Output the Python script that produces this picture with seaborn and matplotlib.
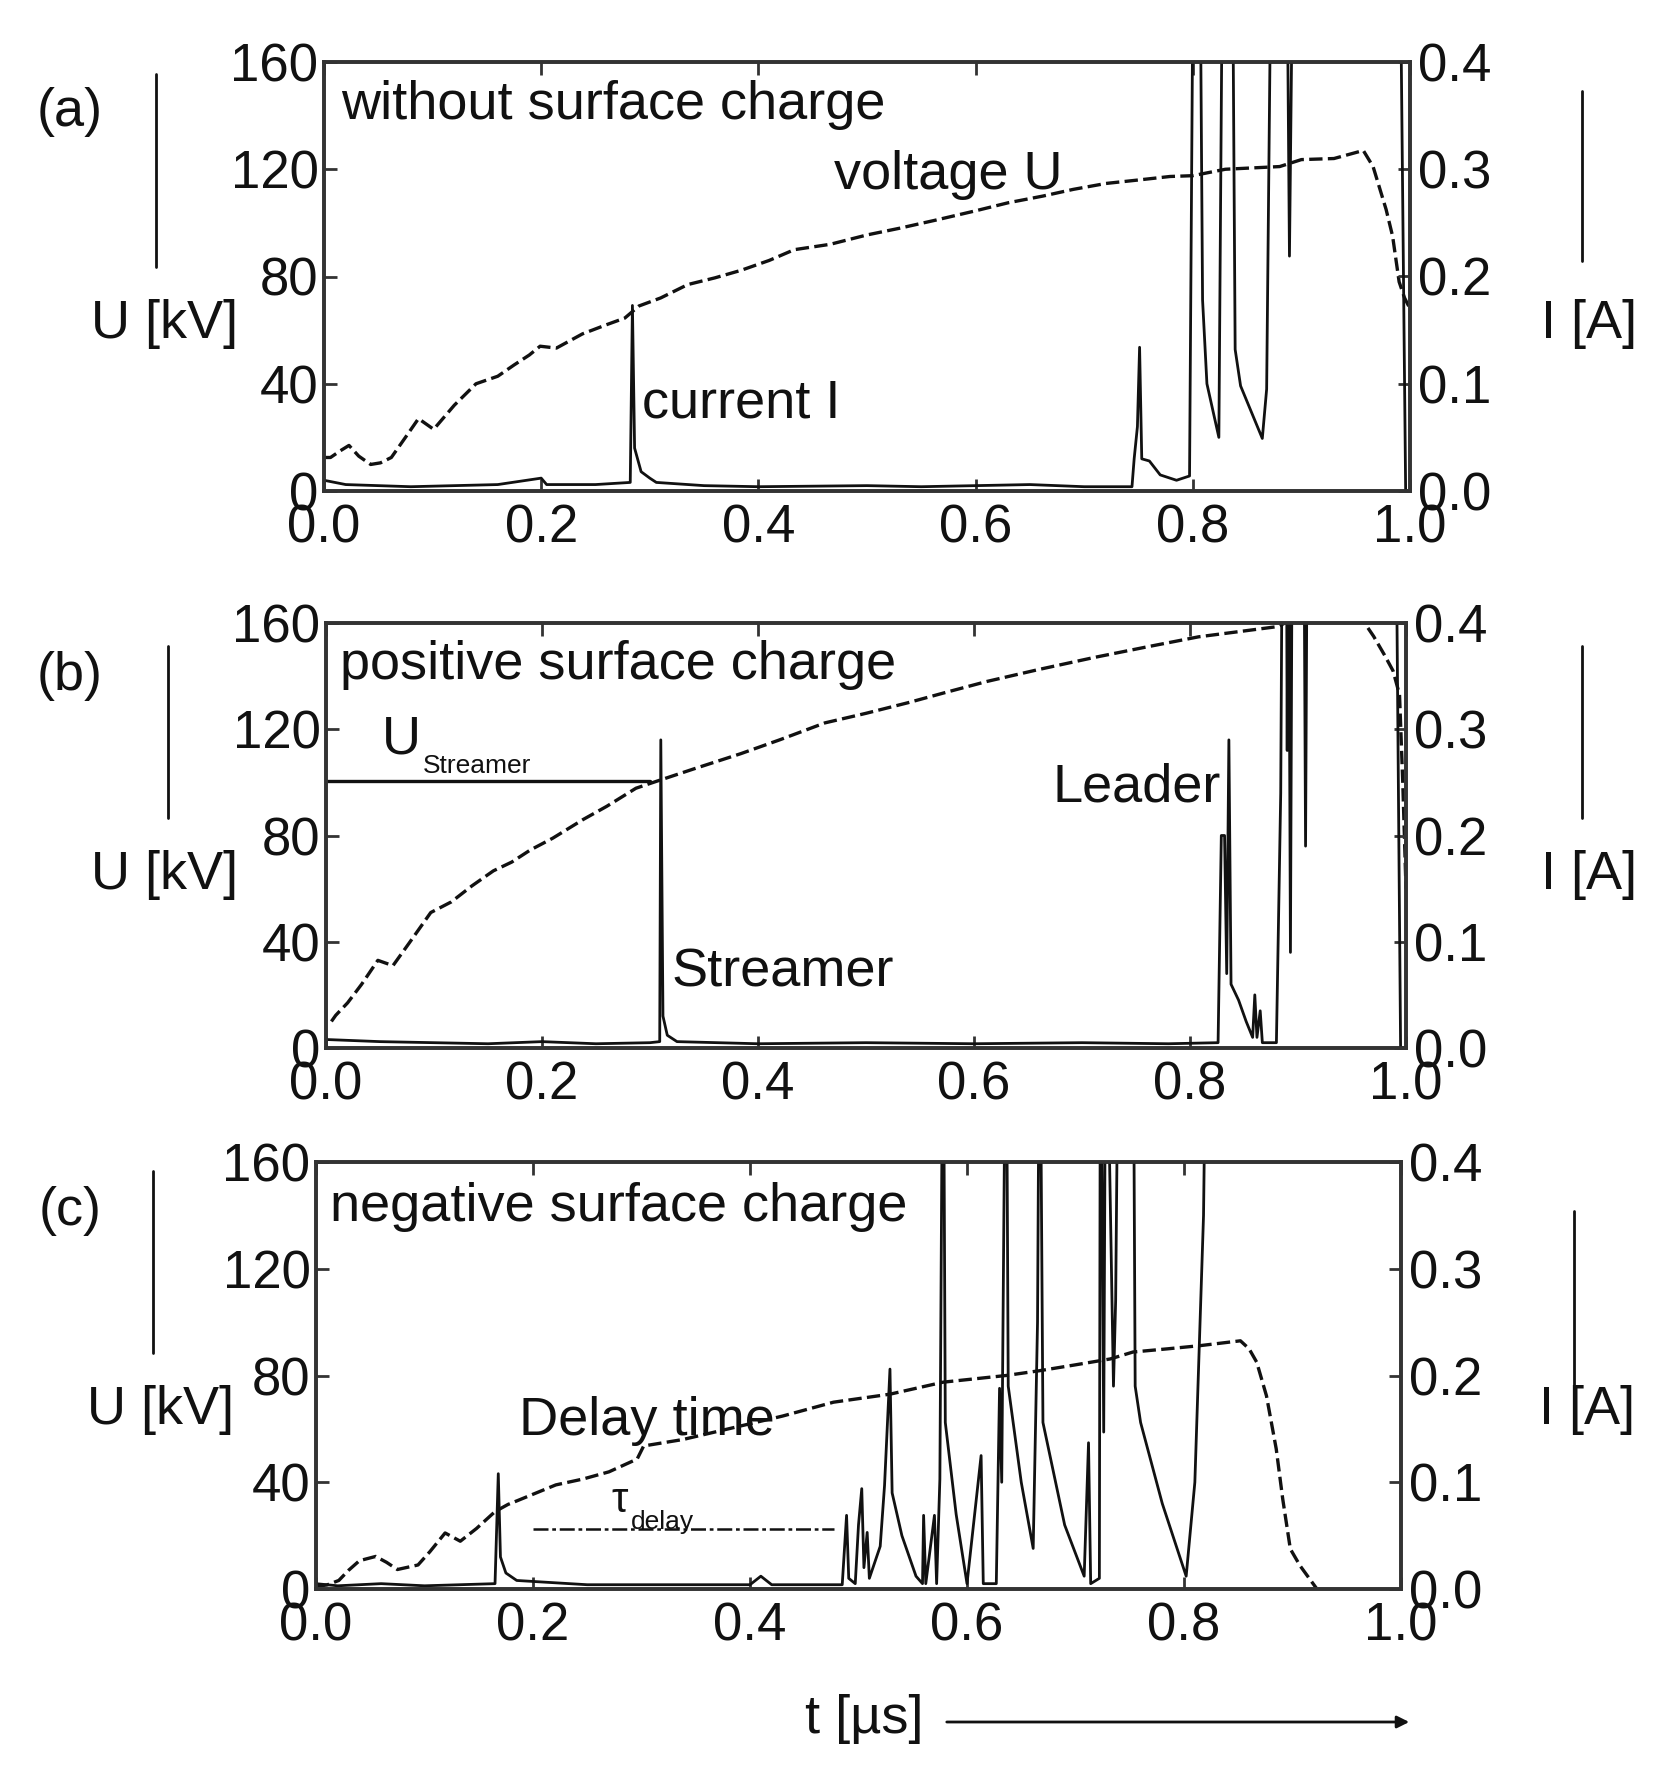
import matplotlib
matplotlib.use("Agg")
import numpy as np
import matplotlib.pyplot as plt
import seaborn as sns
from matplotlib.lines import Line2D

# ---- panel (a): without surface charge ----
T_U_A = [0.000, 0.006, 0.015, 0.023, 0.032, 0.043, 0.052, 0.062, 0.075, 0.087, 0.101, 0.120,
         0.140, 0.160, 0.175, 0.189, 0.199, 0.214, 0.238, 0.260, 0.277, 0.290, 0.310, 0.335,
         0.360, 0.384, 0.410, 0.433, 0.466, 0.500, 0.530, 0.563, 0.600, 0.630, 0.662, 0.690,
         0.720, 0.750, 0.779, 0.800, 0.830, 0.860, 0.880, 0.900, 0.930, 0.957, 0.966, 0.978,
         0.984, 0.990, 0.995, 1.000]
U_A = [12.5, 12.5, 15, 17, 13, 9.9, 10.5, 12.5, 20, 27, 23, 32,
       40, 42.8, 47, 50.7, 54, 53.3, 58.6, 62, 64.5, 69, 72, 77,
       79.5, 82.3, 86, 90, 92, 95.5, 98, 101, 104.5, 107.5, 110, 112.5,
       114.7, 116, 117.3, 117.6, 120, 120.6, 121, 123.6, 124, 127, 121, 105,
       95, 78, 72, 68]
T_I_A = [0.000, 0.020, 0.050, 0.080, 0.120, 0.160, 0.200, 0.205, 0.250, 0.282, 0.284, 0.286,
         0.292, 0.300, 0.306, 0.350, 0.400, 0.500, 0.550, 0.600, 0.650, 0.700, 0.744, 0.746,
         0.749, 0.751, 0.753, 0.760, 0.770, 0.785, 0.797, 0.801, 0.806, 0.809, 0.813, 0.824,
         0.828, 0.836, 0.839, 0.844, 0.864, 0.868, 0.873, 0.886, 0.889, 0.893, 0.990, 0.996, 1.000]
I_A = [0.010, 0.006, 0.005, 0.004, 0.005, 0.006, 0.012, 0.006, 0.006, 0.008, 0.173, 0.040,
       0.018, 0.012, 0.008, 0.005, 0.004, 0.005, 0.004, 0.005, 0.006, 0.004, 0.004, 0.030,
       0.060, 0.134, 0.030, 0.028, 0.015, 0.010, 0.014, 0.6, 0.6, 0.178, 0.100, 0.050,
       0.6, 0.6, 0.132, 0.098, 0.049, 0.095, 0.6, 0.6, 0.219, 0.6, 0.6, 0.0, 0.0]

# ---- panel (b): positive surface charge ----
T_U_B = [0.005, 0.009, 0.020, 0.033, 0.048, 0.062, 0.077, 0.097, 0.116, 0.135, 0.155, 0.172,
         0.189, 0.210, 0.238, 0.260, 0.287, 0.306, 0.340, 0.384, 0.420, 0.462, 0.500, 0.539,
         0.575, 0.612, 0.660, 0.711, 0.760, 0.808, 0.850, 0.882, 0.890, 0.960, 0.970, 0.980,
         0.988, 0.994, 0.997, 1.000]
U_B = [10, 12.3, 17, 24, 33, 31, 39.5, 51, 55, 61, 66.7, 70,
       74.5, 79, 86, 91, 97.8, 100.4, 105, 110.8, 116, 122.4, 126, 130,
       134, 138, 142.5, 147, 151, 154.8, 157, 158.7, 160.5, 161, 155, 148,
       142, 133, 100, 60]
T_I_B = [0.000, 0.050, 0.100, 0.150, 0.200, 0.250, 0.300, 0.309, 0.310, 0.312, 0.316, 0.325,
         0.400, 0.500, 0.600, 0.700, 0.780, 0.826, 0.827, 0.829, 0.832, 0.834, 0.836, 0.838,
         0.845, 0.852, 0.858, 0.860, 0.862, 0.865, 0.867, 0.880, 0.884, 0.886, 0.889, 0.890,
         0.891, 0.893, 0.895, 0.905, 0.907, 0.909, 0.990, 0.995, 1.000]
I_B = [0.008, 0.006, 0.005, 0.004, 0.006, 0.004, 0.005, 0.006, 0.290, 0.030, 0.012, 0.006,
       0.004, 0.005, 0.004, 0.005, 0.004, 0.005, 0.070, 0.200, 0.200, 0.070, 0.290, 0.060,
       0.045, 0.025, 0.010, 0.050, 0.010, 0.035, 0.005, 0.005, 0.240, 0.6, 0.6, 0.280,
       0.6, 0.090, 0.6, 0.6, 0.190, 0.6, 0.6, 0.0, 0.0]
U_STREAMER = 100.4
T_STREAMER_LINE = [0.0, 0.30]

# ---- panel (c): negative surface charge ----
T_U_C = [0.000, 0.010, 0.021, 0.030, 0.040, 0.055, 0.065, 0.075, 0.094, 0.105, 0.119, 0.133,
         0.148, 0.165, 0.177, 0.185, 0.221, 0.246, 0.270, 0.296, 0.302, 0.338, 0.380, 0.430,
         0.477, 0.529, 0.578, 0.636, 0.667, 0.700, 0.732, 0.753, 0.785, 0.815, 0.852, 0.860,
         0.867, 0.876, 0.885, 0.891, 0.898, 0.907, 0.922]
U_C = [1, 1.5, 3.2, 7, 10.6, 12.2, 10, 7.3, 9, 14, 21, 17.9,
       22.7, 29, 31.7, 33, 39, 41.2, 43.9, 48.7, 53.6, 56, 60, 64.8,
       70, 73, 77.5, 80, 81.8, 84, 86.2, 88.8, 90, 91.2, 93, 90,
       85, 72.4, 52.5, 33.7, 15, 8.7, 0.3]
T_I_C = [0.000, 0.020, 0.060, 0.100, 0.165, 0.168, 0.170, 0.175, 0.185, 0.250, 0.400, 0.410,
         0.420, 0.485, 0.489, 0.491, 0.497, 0.500, 0.503, 0.505, 0.508, 0.510, 0.520, 0.524,
         0.529, 0.531, 0.540, 0.553, 0.559, 0.560, 0.562, 0.570, 0.572, 0.575, 0.578, 0.580,
         0.590, 0.600, 0.613, 0.615, 0.627, 0.630, 0.632, 0.636, 0.638, 0.650, 0.661, 0.665,
         0.667, 0.670, 0.690, 0.708, 0.712, 0.714, 0.722, 0.723, 0.726, 0.728, 0.735, 0.737,
         0.740, 0.753, 0.755, 0.760, 0.780, 0.802, 0.810, 0.818, 0.821, 1.000]
I_C = [0.005, 0.003, 0.005, 0.003, 0.005, 0.108, 0.030, 0.015, 0.008, 0.004, 0.004, 0.012,
       0.004, 0.004, 0.069, 0.010, 0.005, 0.060, 0.094, 0.020, 0.053, 0.010, 0.040, 0.097,
       0.206, 0.090, 0.050, 0.012, 0.005, 0.069, 0.005, 0.069, 0.005, 0.103, 0.6, 0.156,
       0.070, 0.005, 0.125, 0.005, 0.005, 0.188, 0.100, 0.6, 0.190, 0.100, 0.038, 0.250,
       0.6, 0.156, 0.060, 0.012, 0.137, 0.005, 0.010, 0.6, 0.147, 0.6, 0.190, 0.270,
       0.6, 0.6, 0.190, 0.156, 0.080, 0.012, 0.100, 0.350, 0.6, 0.6]
U_DELAY = 22.5
T_DELAY_LINE = [0.20, 0.477]

U_TICKS = [0, 40, 80, 120, 160]
I_TICKS = [0.0, 0.1, 0.2, 0.3, 0.4]
T_TICKS = [0.0, 0.2, 0.4, 0.6, 0.8, 1.0]

W, H = 1663, 1782
sns.set_theme(style="ticks")
plt.rcParams['font.family'] = ['Liberation Sans', 'DejaVu Sans']
FS_TICK = 38
FS = 39
INK = '#111111'
SPINE = '#333333'

fig = plt.figure(figsize=(W / 100, H / 100), dpi=100)
fig.patch.set_facecolor('white')


def px_rect(x0, y0, x1, y1):
    return [x0 / W, 1 - y1 / H, (x1 - x0) / W, (y1 - y0) / H]


def fig_xy(x, y):
    return x / W, 1 - y / H


def draw_panel(rect, t_u, u, t_i, cur):
    ax = fig.add_axes(rect)
    ax2 = ax.twinx()
    sns.lineplot(x=t_u, y=u, ax=ax, color=INK, lw=2.4, linestyle=(0, (4, 1.6)),
                 estimator=None, sort=False)
    sns.lineplot(x=t_i, y=cur, ax=ax2, color=INK, lw=2.0, estimator=None, sort=False)
    ax.set_xlim(0, 1)
    ax.set_ylim(0, 160)
    ax2.set_ylim(0, 0.4)
    ax.set_xticks(T_TICKS)
    ax.set_xticklabels([f"{v:.1f}" for v in T_TICKS])
    ax.set_yticks(U_TICKS)
    ax.set_yticklabels([str(v) for v in U_TICKS])
    ax2.set_yticks(I_TICKS)
    ax2.set_yticklabels([f"{v:.1f}" for v in I_TICKS])
    ax.set_xlabel("")
    ax.set_ylabel("")
    ax2.set_ylabel("")
    ax.tick_params(axis='both', direction='in', length=9, width=2, labelsize=FS_TICK,
                   top=True, pad=4, colors=SPINE, labelcolor=INK)
    ax.tick_params(axis='x', pad=9)
    ax2.tick_params(axis='y', direction='in', length=9, width=2, labelsize=FS_TICK,
                    pad=6, colors=SPINE, labelcolor=INK)
    for a in (ax, ax2):
        for s in a.spines.values():
            s.set_visible(True)
            s.set_linewidth(2.6)
            s.set_color(SPINE)
    return ax, ax2


def side_label(y_text, x_u, x_i, left_line, right_line):
    fig.text(*fig_xy(x_u, y_text), "U [kV]", ha='center', va='center', fontsize=FS, color=INK)
    fig.text(*fig_xy(x_i, y_text), "I [A]", ha='center', va='center', fontsize=FS, color=INK)
    for (x, y0, y1) in (left_line, right_line):
        xa, ya0 = fig_xy(x, y0)
        _, ya1 = fig_xy(x, y1)
        fig.add_artist(Line2D([xa, xa], [ya0, ya1], color=INK, lw=2.0))


# panel (a)
ax_a, ax2_a = draw_panel(px_rect(324, 62, 1410, 491), T_U_A, U_A, T_I_A, I_A)
ax_a.text(0.016, 144, "without surface charge", fontsize=FS, va='center', ha='left', color=INK)
ax_a.text(0.47, 118, "voltage U", fontsize=FS, va='center', ha='left', color=INK)
ax_a.text(0.293, 32.5, "current I", fontsize=FS, va='center', ha='left', color=INK)
fig.text(*fig_xy(70, 112), "(a)", ha='center', va='center', fontsize=FS, color=INK)
side_label(324, 165, 1589, (156, 74, 267), (1582, 91, 261))

# panel (b)
ax_b, ax2_b = draw_panel(px_rect(326, 623, 1406, 1048), T_U_B, U_B, T_I_B, I_B)
sns.lineplot(x=T_STREAMER_LINE, y=[U_STREAMER] * len(T_STREAMER_LINE), ax=ax_b,
             color=INK, lw=2.4, estimator=None, sort=False)
ax_b.text(0.052, 116, "U", fontsize=FS, va='center', ha='left', color=INK)
ax_b.text(0.090, 106, "Streamer", fontsize=19, va='center', ha='left', color=INK)
ax_b.text(0.32, 28.6, "Streamer", fontsize=FS, va='center', ha='left', color=INK)
ax_b.text(0.673, 98, "Leader", fontsize=FS, va='center', ha='left', color=INK)
ax_b.text(0.013, 144, "positive surface charge", fontsize=FS, va='center', ha='left', color=INK)
fig.text(*fig_xy(70, 676), "(b)", ha='center', va='center', fontsize=FS, color=INK)
side_label(875, 165, 1589, (168, 646, 818), (1582, 646, 818))

# panel (c)
ax_c, ax2_c = draw_panel(px_rect(316, 1162, 1401, 1589), T_U_C, U_C, T_I_C, I_C)
sns.lineplot(x=T_DELAY_LINE, y=[U_DELAY] * len(T_DELAY_LINE), ax=ax_c,
             color=INK, lw=1.8, linestyle=(0, (6, 1.5, 1.5, 1.5)), estimator=None, sort=False)
ax_c.text(0.013, 143, "negative surface charge", fontsize=FS, va='center', ha='left', color=INK)
ax_c.text(0.187, 63, "Delay time", fontsize=FS, va='center', ha='left', color=INK)
ax_c.text(0.272, 33, "τ", fontsize=30, va='center', ha='left', color=INK)
ax_c.text(0.29, 25, "delay", fontsize=19, va='center', ha='left', color=INK)
fig.text(*fig_xy(70, 1211), "(c)", ha='center', va='center', fontsize=FS, color=INK)
side_label(1410, 161, 1587, (153, 1171, 1353), (1574, 1211, 1392))

# time axis label with arrow
fig.text(*fig_xy(864, 1719), "t [µs]", ha='center', va='center', fontsize=FS, color=INK)
fig.add_artist(matplotlib.patches.FancyArrowPatch(
    fig_xy(944, 1722), fig_xy(1412, 1722), transform=fig.transFigure,
    arrowstyle='-|>', mutation_scale=18, color=INK, lw=2.0))

fig.savefig("out.png", dpi=100, facecolor='white')
